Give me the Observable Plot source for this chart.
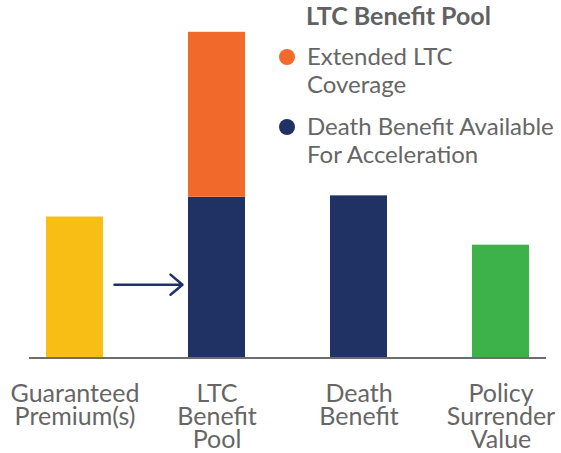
<!DOCTYPE html>
<html>
<head>
<meta charset="utf-8">
<script src="https://cdn.jsdelivr.net/npm/d3@7"></script>
<script src="https://cdn.jsdelivr.net/npm/@observablehq/plot@0.6"></script>
<style>
  body { margin: 0; background: #fff; }
  #wrap { position: relative; width: 561px; height: 453px; font-family: Lato, "Open Sans", sans-serif; }
  #legend { position: absolute; left: 0; top: 0; pointer-events: none; }
</style>
</head>
<body>
<div id="wrap"></div>
<script>
// Categories (x axis tick labels)
const categories = ["Guaranteed\nPremium(s)", "LTC\nBenefit\nPool", "Death\nBenefit", "Policy\nSurrender\nValue"];

// Bar segments (stacked in this order)
const barCategory = [categories[0], categories[1], categories[1], categories[2], categories[3]];
const barSeries = ["Guaranteed Premium(s)", "Death Benefit Available For Acceleration", "Extended LTC Coverage", "Death Benefit", "Policy Surrender Value"];
const barValues = [100, 114, 117, 115, 80];

// Series colours
const seriesNames = ["Guaranteed Premium(s)", "Death Benefit Available For Acceleration", "Extended LTC Coverage", "Death Benefit", "Policy Surrender Value"];
const seriesColors = ["#F8BE16", "#203264", "#F26A2B", "#203264", "#3DB14A"];

// Legend
const legendTitle = "LTC Benefit Pool";
const legendLabels = [["Extended LTC", "Coverage"], ["Death Benefit Available", "For Acceleration"]];
const legendColors = ["#F26A2B", "#203264"];

// Arrow from premium to LTC pool
const arrowFrom = categories[0];
const arrowTo = categories[1];
const arrowLevel = 52;

const rows = barValues.map((v, i) => ({category: barCategory[i], series: barSeries[i], value: v}));

const chart = Plot.plot({
  width: 561,
  height: 453,
  marginLeft: 29,
  marginRight: 15,
  marginTop: 5,
  marginBottom: 95.5,
  style: {fontFamily: "Lato, 'Open Sans', sans-serif", background: "#fff"},
  x: {domain: categories, range: [44, 530], paddingInner: 0.6, paddingOuter: 0, align: 0.5},
  y: {domain: [0, 250], axis: null},
  color: {domain: seriesNames, range: seriesColors},
  marks: [
    Plot.barY(rows, {x: "category", y: "value", fill: "series"}),
    Plot.ruleY([0], {stroke: "#6d6d6d", strokeWidth: 2}),
    Plot.arrow([{from: arrowFrom, to: arrowTo, y: arrowLevel}], {
      x1: "from", x2: "to", y1: "y", y2: "y",
      insetStart: 39.5, insetEnd: 34.5,
      headAngle: 80, headLength: 9.4,
      stroke: "#1f3166", strokeWidth: 2.5
    }),
    Plot.axisX({
      tickSize: 0, tickPadding: 27, fontSize: 25, lineHeight: 0.93,
      color: "#666", label: null, tickFormat: d => d
    })
  ]
});

const wrap = document.getElementById("wrap");
wrap.appendChild(chart);

// Legend overlay
const svg = d3.select(wrap).append("svg")
  .attr("id", "legend").attr("width", 561).attr("height", 453)
  .style("font-family", "Lato, 'Open Sans', sans-serif");
svg.append("text").attr("x", 306).attr("y", 25)
  .attr("font-size", 25).attr("font-weight", 700).attr("fill", "#616161")
  .text(legendTitle);
legendLabels.forEach((lines, i) => {
  const y0 = 65 + i * 70;
  svg.append("circle").attr("cx", 287).attr("cy", y0 - 8).attr("r", 8).attr("fill", legendColors[i]);
  const t = svg.append("text").attr("x", 307).attr("y", y0).attr("font-size", 24).attr("fill", "#666");
  lines.forEach((ln, j) => t.append("tspan").attr("x", 307).attr("dy", j ? 28 : 0).text(ln));
});
</script>
</body>
</html>
